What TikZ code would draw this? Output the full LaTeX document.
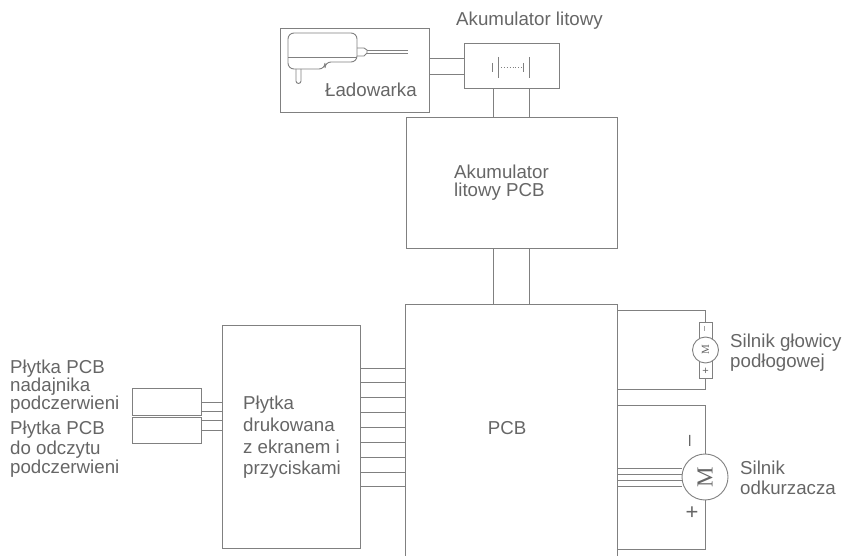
\documentclass[tikz,border=0pt]{standalone}
\usepackage{fontspec}
\setmainfont{Liberation Sans}
\newfontfamily\motorfont{Liberation Serif}
\usepackage{xcolor}
\usetikzlibrary{positioning}
\definecolor{linegray}{HTML}{808080}
\definecolor{textgray}{HTML}{666666}
\tikzset{
    box/.style={draw=linegray,line width=0.9pt,minimum width=#1,inner sep=0pt},
    lab/.style={text=textgray,align=left,inner sep=0pt,font=\fontsize{18.7}{18.3}\selectfont},
    motor/.style={draw=linegray,line width=0.9pt,circle,inner sep=0pt,fill=white},
    wire/.style={draw=linegray,line width=0.9pt},
    sym/.style={text=textgray,inner sep=0pt}
}

\begin{document}
\begin{tikzpicture}[x=1pt,y=-1pt]
    \useasboundingbox (0,0) rectangle (844,556);

    % boxes
    \node[box=149pt,minimum height=84pt] (chg) at (354.5,70) {};
    \node[box=95pt,minimum height=45pt] (bat) at (511.5,65.5) {};
    \node[box=211pt,minimum height=131pt] (bms) at (511.5,182.5) {};
    \node[minimum width=211pt,minimum height=251pt,inner sep=0pt] (pcb) at (511.5,430.5) {};
    \node[box=138pt,minimum height=223pt] (dsp) at (291,436.5) {};
    \node[box=69pt,minimum height=27pt] (tx) at (166.5,401.5) {};
    \node[box=69pt,minimum height=26pt] (rx) at (166.5,430) {};
    \draw[wire] (pcb.south west) -- (pcb.north west) -- (pcb.north east) -- (pcb.south east);

    % labels
    \node[lab,anchor=west] (batlab) at (456,21) {Akumulator litowy};
    \node[lab,anchor=west] (chglab) at (325,90) {Ładowarka};
    \node[lab,anchor=west] (bmslab) at (454,183) {Akumulator\\litowy PCB};
    \node[lab] (pcblab) at (507,428) {PCB};
    \node[lab,anchor=west] (dsplab) at (243,437.5) {Płytka\\[3.4pt]drukowana\\[3.4pt]z ekranem i\\[3.4pt]przyciskami};
    \node[lab,anchor=west] (txlab) at (10,386.5) {Płytka PCB\\nadajnika\\podczerwieni};
    \node[lab,anchor=west] (rxlab) at (10,449.5) {Płytka PCB\\[1.2pt]do odczytu\\[1.2pt]podczerwieni};
    \node[lab,anchor=west] (m1lab) at (730,353) {Silnik głowicy\\[1.7pt]podłogowej};
    \node[lab,anchor=west] (m2lab) at (740,478) {Silnik\\[1.7pt]odkurzacza};

    % wires
    \foreach \y in {58,74} \draw[wire] (chg.east |- 0,\y) -- (bat.west |- 0,\y);
    \foreach \x in {493,529} {
        \draw[wire] (\x,0 |- bat.south) -- (\x,0 |- bms.north);
        \draw[wire] (\x,0 |- bms.south) -- (\x,0 |- pcb.north);
    }
    \foreach \y in {368,382.5,397,412,427,442,457,472,486} \draw[wire] (dsp.east |- 0,\y) -- (pcb.west |- 0,\y);
    \foreach \y in {402,411} \draw[wire] (tx.east |- 0,\y) -- (dsp.west |- 0,\y);
    \foreach \y in {420,430} \draw[wire] (rx.east |- 0,\y) -- (dsp.west |- 0,\y);

    % floor head motor
    \coordinate (m1a) at (705,310);
    \coordinate (m1b) at (705,389);
    \draw[wire] (pcb.east |- m1a) -- (m1a) -- (m1b) -- (pcb.east |- m1b);
    \node[box=13pt,minimum height=56pt,fill=white] (m1case) at (705.5,350) {};
    \node[motor,minimum size=26pt] (m1) at (705.5,350) {};
    \node[sym,rotate=90,font=\fontsize{11}{11}\motorfont] (m1sym) at (705.5,350) {M};
    \node[sym,font=\fontsize{9}{9}\selectfont,rotate=90] (m1neg) at (705.5,329) {--};
    \node[sym,font=\fontsize{11}{11}\selectfont] (m1pos) at (705.5,371) {+};

    % vacuum motor
    \coordinate (m2a) at (705,405);
    \coordinate (m2b) at (705,549);
    \draw[wire] (pcb.east |- m2a) -- (m2a) -- (m2b) -- (pcb.east |- m2b);
    \node[motor,minimum size=46pt] (m2) at (705,477) {};
    \node[sym,rotate=90,font=\fontsize{23}{23}\motorfont] (m2sym) at (705,477) {M};
    \foreach \y in {468,474,480,486} \draw[wire] (pcb.east |- 0,\y) -- (m2.west |- 0,\y);
    \node[sym,font=\fontsize{20}{20}\selectfont,rotate=90] (m2neg) at (692,441) {--};
    \node[sym,font=\fontsize{22}{22}\selectfont] (m2pos) at (692,513) {+};

    % battery symbol
    \draw[wire] (492,63) -- (492,72) (498,57) -- (498,78) (523,63) -- (523,72) (529,57) -- (529,78);
    \draw[wire,dotted] (498,67) -- (523,67);

    % charger
    \draw[wire,rounded corners=6pt] (288,57) -- (288,33) -- (357,33) -- (357,62) -- (325,62) -- (325,69) -- (288,69) -- cycle;
    \draw[wire] (288,57) -- (357,57);
    \draw[wire] (357,48) -- (364,48) -- (367,50) -- (367,53) -- (364,56) -- (357,56);
    \draw[wire] (367,50) -- (408,50) (367,53) -- (408,53);
    \draw[wire] (296,69) -- (296,81) arc[start angle=180,end angle=0,radius=2.5] -- (301,69);
\end{tikzpicture}
\end{document}
